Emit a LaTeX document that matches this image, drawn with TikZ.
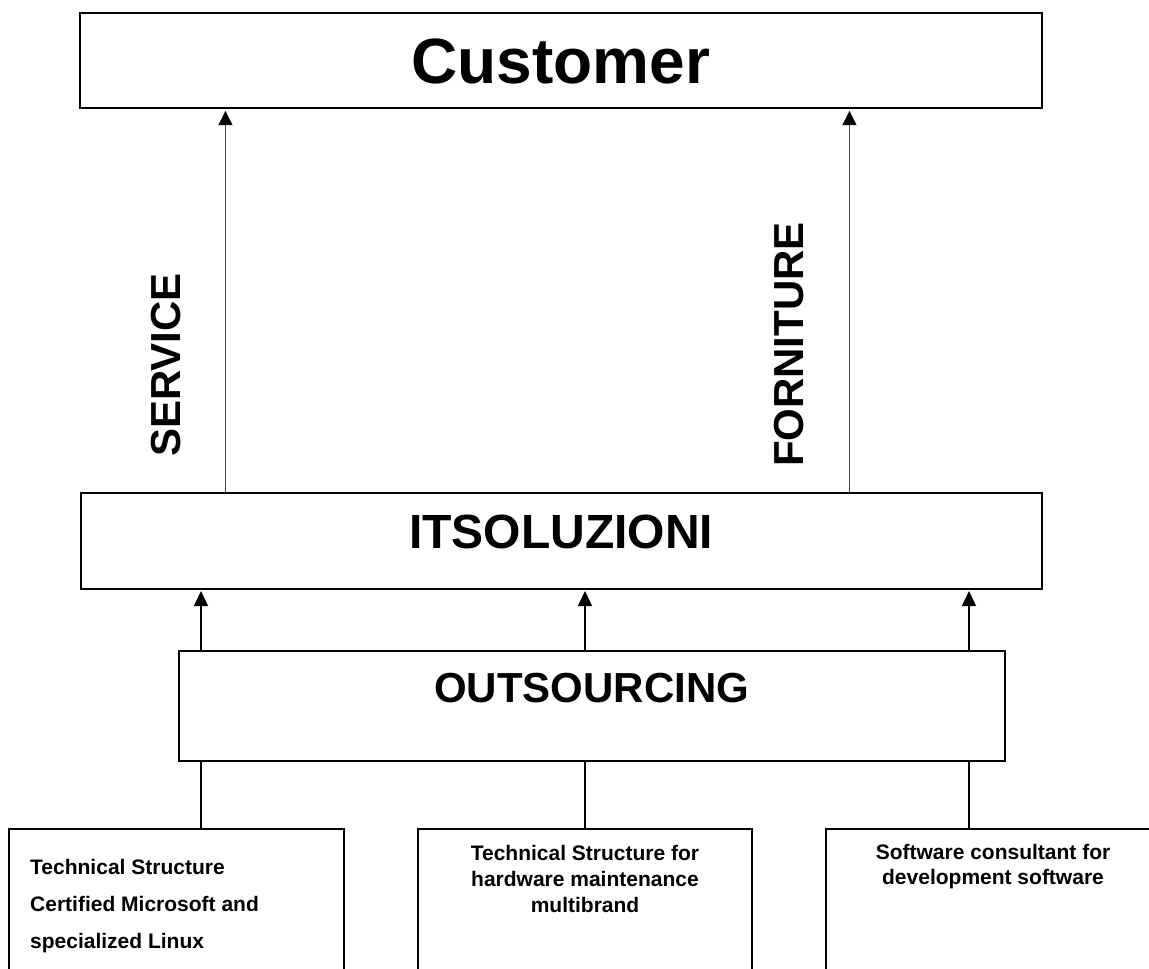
\documentclass[tikz,border=0pt]{standalone}
\usepackage{fontspec}
\setmainfont{Liberation Sans}
\usetikzlibrary{arrows.meta}
\tikzset{
  x=1pt,y=-1pt,
  boxframe/.style={draw=black,line width=2pt,inner sep=0pt,fill=none},
  bigtext/.style={font=\bfseries\fontsize{#1}{#1}\selectfont,inner sep=0pt,anchor=base},
  smalltext/.style={font=\bfseries\fontsize{21}{#1}\selectfont,inner sep=0pt},
  uparrow/.style={line width=1.3pt,-{Triangle[length=15pt,width=14pt]}},
  thinarrow/.style={line width=0.8pt,draw=black!75,-{Triangle[length=14pt,width=14pt,fill=black,color=black]}},
  openbox/.style={line width=1.8pt,line join=miter}
}
\begin{document}
\begin{tikzpicture}
\useasboundingbox (0,0) rectangle (1149,969);
\clip (0,0) rectangle (1149,969);
% main boxes
\node[boxframe,minimum width=962pt,minimum height=95pt] (cust) at (561,60.5) {};
\node[boxframe,minimum width=961pt,minimum height=96pt] (its) at (561.5,541) {};
\node[boxframe,minimum width=826.5pt,minimum height=110pt] (out) at (591.75,706) {};
% titles
\node[bigtext=64] (custt) at (561,83) {Customer};
\node[bigtext=48] (itst) at (561,548) {ITSOLUZIONI};
\node[bigtext=42] (outt) at (591.5,702) {OUTSOURCING};
\node[bigtext=42,rotate=90] (serv) at (180,365) {SERVICE};
\node[bigtext=42,rotate=90] (forn) at (803,344.5) {FORNITURE};
% column coordinates
\coordinate (ca) at (225.5,0);
\coordinate (cb) at (849.5,0);
\coordinate (c1) at (201,0);
\coordinate (c2) at (585,0);
\coordinate (c3) at (969,0);
% upper arrows
\draw[thinarrow] (ca |- its.north) -- ([yshift=-2pt]ca |- cust.south);
\draw[thinarrow] (cb |- its.north) -- ([yshift=-2pt]cb |- cust.south);
% arrows outsourcing -> itsoluzioni
\draw[uparrow] (c1 |- out.north) -- ([yshift=-1pt]c1 |- its.south);
\draw[uparrow] (c2 |- out.north) -- ([yshift=-1pt]c2 |- its.south);
\draw[uparrow] (c3 |- out.north) -- ([yshift=-1pt]c3 |- its.south);
% bottom open boxes
\coordinate (b1) at (176.5,829);
\coordinate (b2) at (585,829);
\coordinate (b3) at (1000,829);
\draw[openbox] (9,975) -- (9,829) -- (344,829) -- (344,975);
\draw[openbox] (418,975) -- (418,829) -- (752,829) -- (752,975);
\draw[openbox] (826,975) -- (826,829) -- (1160,829);
% connectors outsourcing -> bottom boxes
\draw[line width=1.3pt] (c1 |- out.south) -- (c1 |- b1);
\draw[line width=1.3pt] (c2 |- out.south) -- (c2 |- b2);
\draw[line width=1.3pt] (c3 |- out.south) -- (c3 |- b3);
% bottom texts
\node[smalltext=37,align=left,anchor=north west] (t1) at (30,858.8)
  {Technical Structure\\Certified Microsoft and\\specialized Linux};
\node[smalltext=26,align=center,anchor=north] (t2) at (585,845)
  {Technical Structure for\\hardware maintenance\\multibrand};
\node[smalltext=25.5,align=center,anchor=north] (t3) at (993,844)
  {Software consultant for\\development software};
\end{tikzpicture}
\end{document}
